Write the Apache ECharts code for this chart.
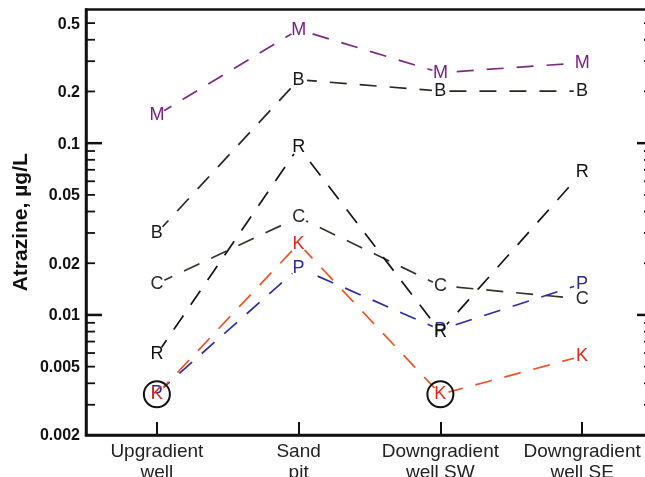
<!DOCTYPE html>
<html>
<head>
<meta charset="utf-8">
<script src="https://cdn.jsdelivr.net/npm/echarts@6/dist/echarts.min.js"></script>
<style>
html,body{margin:0;padding:0;background:#fff;}
#chart{width:645px;height:477px;}
</style>
</head>
<body>
<div id="chart"></div>
<script>
// ---- data ----
var categories = ['Upgradient\nwell', 'Sand\npit', 'Downgradient\nwell SW', 'Downgradient\nwell SE'];
var seriesM = [0.146, 0.458, 0.257, 0.294];
var seriesB = [0.030, 0.234, 0.201, 0.201];
var seriesC = [0.0152, 0.037, 0.0148, 0.0124];
var seriesP = [0.0035, 0.0188, 0.0082, 0.0152];
var seriesR = [0.0059, 0.095, 0.0080, 0.0677];
var seriesK = [0.00345, 0.026, 0.00345, 0.00576];
var circledK = [0, 2]; // category indexes where K is circled
var yTickValues = [0.003, 0.004, 0.005, 0.006, 0.007, 0.008, 0.009,
                   0.01, 0.02, 0.03, 0.04, 0.05, 0.06, 0.07, 0.08, 0.09,
                   0.1, 0.2, 0.3, 0.4, 0.5];
var yMajorTicks = [0.01, 0.1];
var yTickLabels = [0.002, 0.005, 0.01, 0.02, 0.05, 0.1, 0.2, 0.5];

var FONT = "'Liberation Sans', Arial, sans-serif";

function letterSeries(name, letter, data, lineColor, letterColor, extra) {
  var s = {
    name: name,
    type: 'line',
    data: data,
    symbol: 'circle',
    symbolSize: 17,
    itemStyle: { color: '#ffffff', borderWidth: 0 },
    lineStyle: { color: lineColor, width: 1.7, type: [17, 13] },
    label: {
      show: true, position: 'inside', formatter: letter,
      color: letterColor, fontSize: 18, fontFamily: FONT
    },
    emphasis: { disabled: true },
    silent: true,
    z: 3
  };
  if (extra) { for (var k in extra) s[k] = extra[k]; }
  return s;
}

var chart = echarts.init(document.getElementById('chart'), null, { renderer: 'canvas' });

var option = {
  animation: false,
  backgroundColor: '#ffffff',
  grid: {
    left: 86, right: -8, top: 9.5, bottom: 42,
    containLabel: false,
    outerBoundsMode: 'none',
    show: true, borderColor: '#111', borderWidth: 2.5, backgroundColor: 'transparent'
  },
  xAxis: {
    type: 'category',
    data: categories,
    boundaryGap: true,
    axisLine: { show: true, lineStyle: { color: '#111', width: 2.5 } },
    axisTick: { show: true, inside: true, alignWithLabel: true, length: 13, lineStyle: { color: '#111', width: 2 } },
    axisLabel: { color: '#222', fontSize: 19, fontFamily: FONT, lineHeight: 21, margin: 6, interval: 0 },
    splitLine: { show: false }
  },
  yAxis: {
    type: 'log',
    logBase: 10,
    min: 0.002,
    max: 0.6,
    name: 'Atrazine, µg/L',
    nameLocation: 'middle',
    nameGap: 54,
    nameTextStyle: { color: '#111', fontSize: 21, fontWeight: 'bold', fontFamily: FONT },
    axisLine: { show: true, lineStyle: { color: '#111', width: 2.5 } },
    axisTick: { show: false },
    axisLabel: { show: false },
    splitLine: { show: false },
    minorTick: { show: false }
  },
  series: [
    // tick marks on left and right axes
    {
      type: 'custom',
      silent: true,
      clip: false,
      z: 5,
      data: yTickValues.map(function (v) { return [0, v]; }),
      encode: { x: 0, y: 1 },
      renderItem: function (params, api) {
        var v = api.value(1);
        var y = api.coord([0, v])[1];
        var cs = params.coordSys;
        var major = yMajorTicks.indexOf(v) >= 0;
        var len = major ? 16 : 9;
        var w = major ? 2.5 : 1.8;
        return {
          type: 'group',
          children: [
            { type: 'line', shape: { x1: cs.x, y1: y, x2: cs.x + len, y2: y }, style: { stroke: '#111', lineWidth: w } },
            { type: 'line', shape: { x1: cs.x + cs.width - len, y1: y, x2: cs.x + cs.width, y2: y }, style: { stroke: '#111', lineWidth: w } }
          ]
        };
      }
    },
    // tick labels
    {
      type: 'custom',
      silent: true,
      clip: false,
      z: 5,
      data: yTickLabels.map(function (v) { return [0, v]; }),
      encode: { x: 0, y: 1 },
      renderItem: function (params, api) {
        var v = api.value(1);
        var y = api.coord([0, v])[1];
        var cs = params.coordSys;
        return {
          type: 'text',
          style: {
            x: cs.x - 6, y: y + 1,
            text: String(v),
            align: 'right', verticalAlign: 'middle',
            fill: '#111', font: 'bold 16px ' + FONT
          }
        };
      }
    },
    letterSeries('M', 'M', seriesM, '#7d2a86', '#7a1f85'),
    letterSeries('B', 'B', seriesB, '#2b2622', '#1a1a1a'),
    letterSeries('C', 'C', seriesC, '#34342a', '#2a2a2a'),
    letterSeries('P', 'P', seriesP, '#2e2ea0', '#2a2a9e'),
    letterSeries('R', 'R', seriesR, '#151515', '#111111'),
    letterSeries('K', 'K', seriesK, '#ea5524', '#e5261c', {
      markPoint: {
        symbol: 'circle',
        symbolSize: 26,
        silent: true,
        itemStyle: { color: 'rgba(0,0,0,0)', borderColor: '#111', borderWidth: 2 },
        label: { show: false },
        data: circledK.map(function (i) { return { coord: [i, seriesK[i]] }; })
      }
    })
  ]
};

chart.setOption(option);
</script>
</body>
</html>
